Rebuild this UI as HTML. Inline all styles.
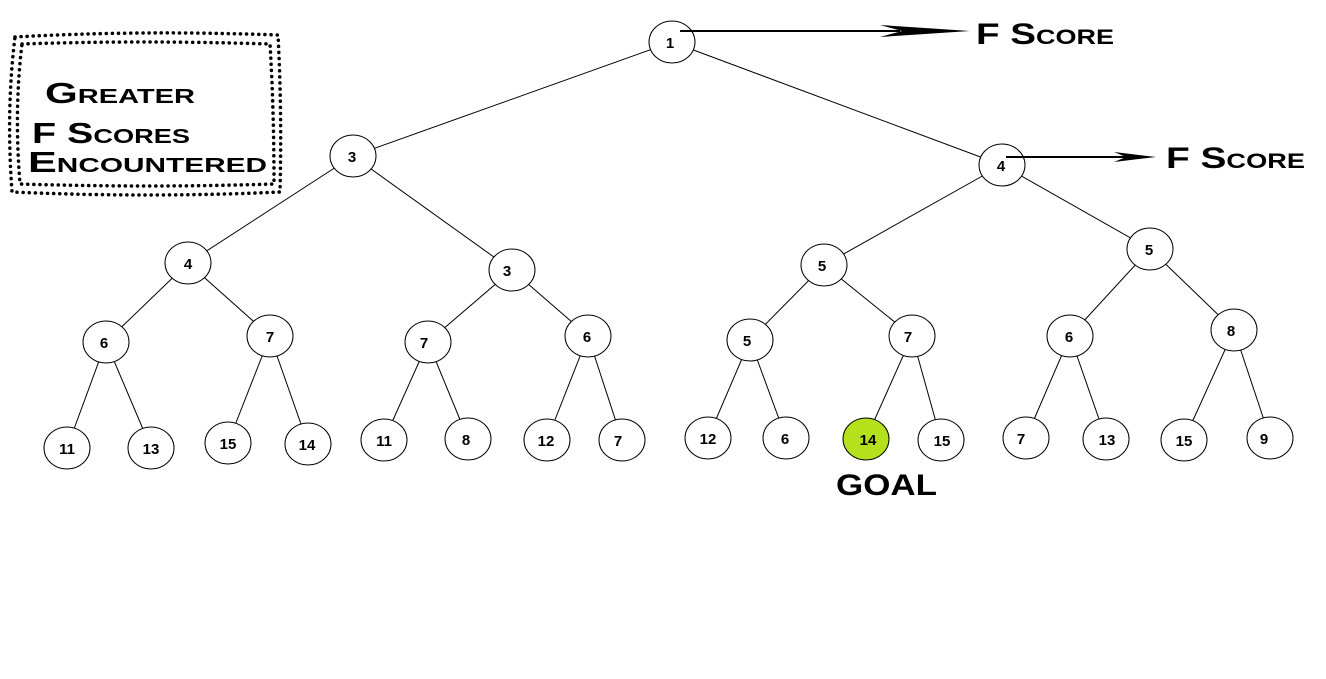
<!DOCTYPE html>
<html><head><style>
html,body{margin:0;padding:0;background:#fff;}
svg{display:block;}
.n text{font-family:"Liberation Sans",sans-serif;font-weight:bold;font-size:15px;}
.t{font-family:"Liberation Sans",sans-serif;font-weight:bold;font-variant:small-caps;fill:#000;}
</style></head><body>
<svg width="1326" height="679" viewBox="0 0 1326 679" xmlns="http://www.w3.org/2000/svg">
<rect width="1326" height="679" fill="#fff"/>
<!-- dotted box -->
<path d="M15,37 Q140,30 278,35 Q282,110 280,192 Q150,198 12,192 Q6,110 15,37Z" fill="none" stroke="#000" stroke-width="3.5" stroke-dasharray="0.1 6" stroke-linecap="round"/>
<path d="M22,44 Q140,40 270,44 Q274,110 274,184 Q150,188 20,184 Q14,110 22,44Z" fill="none" stroke="#000" stroke-width="3.5" stroke-dasharray="0.1 6" stroke-linecap="round"/>
<text class="t" x="45" y="103" font-size="29" textLength="150" lengthAdjust="spacingAndGlyphs">Greater</text>
<text class="t" x="32" y="143" font-size="29" textLength="158" lengthAdjust="spacingAndGlyphs">F Scores</text>
<text class="t" x="28" y="172" font-size="29" textLength="239" lengthAdjust="spacingAndGlyphs">Encountered</text>
<!-- edges -->
<g stroke="#000" stroke-width="1" fill="none">
<line x1="672" y1="42" x2="353" y2="156"/><line x1="672" y1="42" x2="1002" y2="165"/>
<line x1="353" y1="156" x2="188" y2="263"/><line x1="353" y1="156" x2="512" y2="270"/>
<line x1="1002" y1="165" x2="824" y2="265"/><line x1="1002" y1="165" x2="1150" y2="249"/>
<line x1="188" y1="263" x2="106" y2="342"/><line x1="188" y1="263" x2="270" y2="336"/>
<line x1="512" y1="270" x2="428" y2="342"/><line x1="512" y1="270" x2="588" y2="336"/>
<line x1="824" y1="265" x2="750" y2="340"/><line x1="824" y1="265" x2="912" y2="336"/>
<line x1="1150" y1="249" x2="1070" y2="336"/><line x1="1150" y1="249" x2="1234" y2="330"/>
<line x1="106" y1="342" x2="67" y2="448"/><line x1="106" y1="342" x2="151" y2="448"/>
<line x1="270" y1="336" x2="228" y2="443"/><line x1="270" y1="336" x2="308" y2="444"/>
<line x1="428" y1="342" x2="384" y2="440"/><line x1="428" y1="342" x2="468" y2="439"/>
<line x1="588" y1="336" x2="547" y2="440"/><line x1="588" y1="336" x2="622" y2="440"/>
<line x1="750" y1="340" x2="708" y2="438"/><line x1="750" y1="340" x2="786" y2="438"/>
<line x1="912" y1="336" x2="866" y2="439"/><line x1="912" y1="336" x2="941" y2="440"/>
<line x1="1070" y1="336" x2="1026" y2="438"/><line x1="1070" y1="336" x2="1106" y2="439"/>
<line x1="1234" y1="330" x2="1184" y2="440"/><line x1="1234" y1="330" x2="1270" y2="438"/>
</g>
<!-- nodes -->
<g class="n" stroke="#000" stroke-width="1" fill="#fff">
<g id="nodes">
<ellipse cx="672" cy="42" rx="23" ry="21"/>
<ellipse cx="353" cy="156" rx="23" ry="21"/><ellipse cx="1002" cy="165" rx="23" ry="21"/>
<ellipse cx="188" cy="263" rx="23" ry="21"/><ellipse cx="512" cy="270" rx="23" ry="21"/>
<ellipse cx="824" cy="265" rx="23" ry="21"/><ellipse cx="1150" cy="249" rx="23" ry="21"/>
<ellipse cx="106" cy="342" rx="23" ry="21"/><ellipse cx="270" cy="336" rx="23" ry="21"/>
<ellipse cx="428" cy="342" rx="23" ry="21"/><ellipse cx="588" cy="336" rx="23" ry="21"/>
<ellipse cx="750" cy="340" rx="23" ry="21"/><ellipse cx="912" cy="336" rx="23" ry="21"/>
<ellipse cx="1070" cy="336" rx="23" ry="21"/><ellipse cx="1234" cy="330" rx="23" ry="21"/>
<ellipse cx="67" cy="448" rx="23" ry="21"/><ellipse cx="151" cy="448" rx="23" ry="21"/>
<ellipse cx="228" cy="443" rx="23" ry="21"/><ellipse cx="308" cy="444" rx="23" ry="21"/>
<ellipse cx="384" cy="440" rx="23" ry="21"/><ellipse cx="468" cy="439" rx="23" ry="21"/>
<ellipse cx="547" cy="440" rx="23" ry="21"/><ellipse cx="622" cy="440" rx="23" ry="21"/>
<ellipse cx="708" cy="438" rx="23" ry="21"/><ellipse cx="786" cy="438" rx="23" ry="21"/>
<ellipse cx="866" cy="439" rx="23" ry="21" fill="#b5e01c"/><ellipse cx="941" cy="440" rx="23" ry="21"/>
<ellipse cx="1026" cy="438" rx="23" ry="21"/><ellipse cx="1106" cy="439" rx="23" ry="21"/>
<ellipse cx="1184" cy="440" rx="23" ry="21"/><ellipse cx="1270" cy="438" rx="23" ry="21"/>
</g>
<g stroke="none" fill="#000" text-anchor="middle">
<text x="670" y="48">1</text>
<text x="352" y="162">3</text><text x="1001" y="171">4</text>
<text x="188" y="269">4</text><text x="507" y="276">3</text>
<text x="822" y="271">5</text><text x="1149" y="255">5</text>
<text x="104" y="348">6</text><text x="270" y="342">7</text>
<text x="424" y="348">7</text><text x="587" y="342">6</text>
<text x="747" y="346">5</text><text x="908" y="342">7</text>
<text x="1069" y="342">6</text><text x="1231" y="336">8</text>
<text x="67" y="454">11</text><text x="151" y="454">13</text>
<text x="228" y="449">15</text><text x="307" y="450">14</text>
<text x="384" y="446">11</text><text x="466" y="445">8</text>
<text x="546" y="446">12</text><text x="618" y="446">7</text>
<text x="708" y="444">12</text><text x="785" y="444">6</text>
<text x="868" y="445">14</text><text x="942" y="446">15</text>
<text x="1021" y="444">7</text><text x="1107" y="445">13</text>
<text x="1184" y="446">15</text><text x="1264" y="444">9</text>
</g>
</g>
<!-- arrows -->
<line x1="680" y1="31" x2="900" y2="31" stroke="#000" stroke-width="2"/>
<path d="M880,25 L970,31 L880,37 L902,31Z" fill="#000"/>
<line x1="1006" y1="157" x2="1130" y2="157" stroke="#000" stroke-width="2"/>
<path d="M1114,152 L1156,157 L1114,162 L1126,157Z" fill="#000"/>
<text class="t" x="976" y="44" font-size="30" textLength="138" lengthAdjust="spacingAndGlyphs">F Score</text>
<text class="t" x="1166" y="168" font-size="30" textLength="139" lengthAdjust="spacingAndGlyphs">F Score</text>
<text x="836" y="495" font-family="Liberation Sans,sans-serif" font-weight="bold" font-size="30" textLength="101" lengthAdjust="spacingAndGlyphs">GOAL</text>
</svg>
</body></html>
